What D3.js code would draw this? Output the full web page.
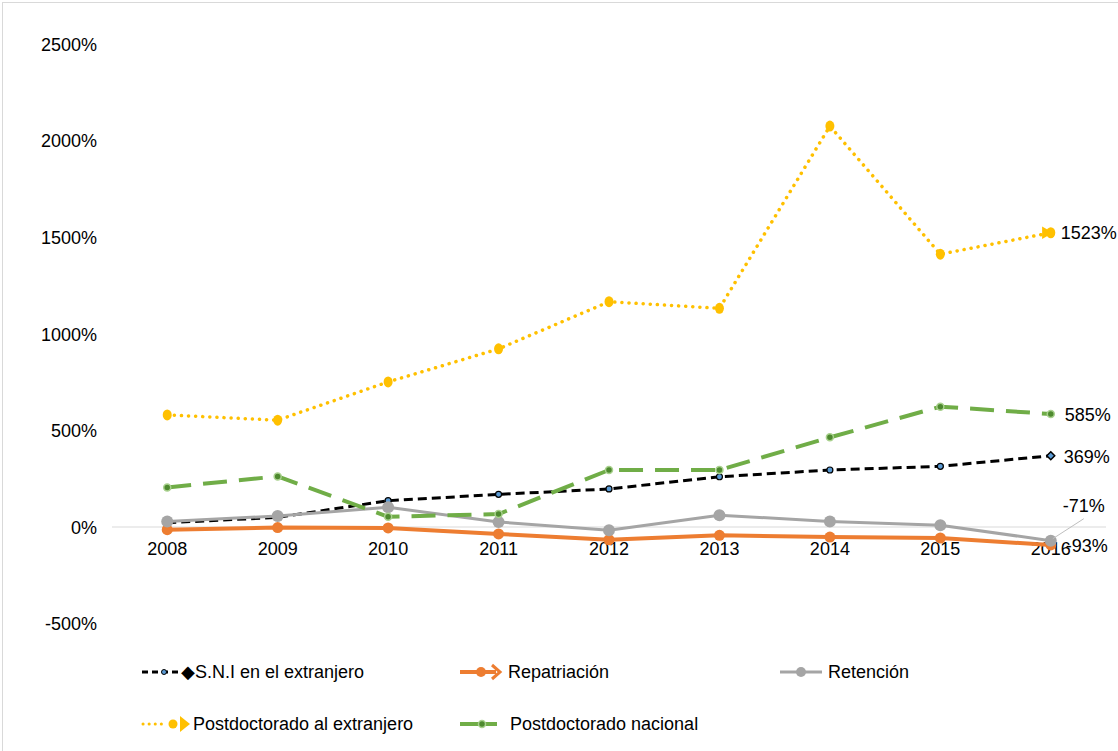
<!DOCTYPE html>
<html><head><meta charset="utf-8">
<script src="https://cdn.jsdelivr.net/npm/d3@7"></script>
<style>body{margin:0;background:#fff}svg{display:block}text{font-family:"Liberation Sans",Arial,sans-serif;fill:#000}</style>
</head><body><svg id="c" width="1118" height="751"></svg>
<script>
const years = ["2008","2009","2010","2011","2012","2013","2014","2015","2016"];
const yTicks = [-500, 0, 500, 1000, 1500, 2000, 2500];
const sni = [22, 50, 136, 169, 197, 260, 295, 314, 369];
const repatriacion = [-14, -3, -5, -36, -66, -43, -52, -57, -93];
const retencion = [29, 57, 102, 26, -17, 61, 29, 9, -71];
const postExt = [580, 553, 751, 922, 1166, 1132, 2075, 1412, 1523];
const postNac = [205, 262, 53, 67, 295, 295, 464, 623, 585];
const names = ["S.N.I en el extranjero","Repatriación","Retención","Postdoctorado al extranjero","Postdoctorado nacional"];

const svg = d3.select("#c");
// outer frame
svg.append("rect").attr("x",2.5).attr("y",2.5).attr("width",1130).attr("height",760)
  .attr("fill","none").attr("stroke","#d9d9d9").attr("stroke-width",1);

const x = d3.scaleBand().domain(years).range([112,1106]).paddingInner(0).paddingOuter(0);
const cx = d => x(d)+x.bandwidth()/2;
const y = d3.scaleLinear().domain([-500,2500]).range([623.6,44]);

// y axis labels
const ya = svg.append("g").attr("transform","translate(97,0)")
  .call(d3.axisLeft(y).tickValues(yTicks).tickSize(0).tickPadding(0).tickFormat(d=>d+"%"));
ya.select(".domain").remove();
ya.selectAll("text").attr("font-size",18).attr("font-family","Liberation Sans, Arial, sans-serif").attr("fill","#000").attr("dy","0.35em");

// zero line
svg.append("line").attr("x1",112).attr("x2",1106).attr("y1",y(0)).attr("y2",y(0))
  .attr("stroke","#d9d9d9").attr("stroke-width",1);

// x labels
const xa = svg.append("g").attr("transform","translate(0,"+ (y(0)+22) +")")
  .call(d3.axisBottom(x).tickSize(0).tickPadding(0));
xa.select(".domain").remove();
xa.selectAll("text").attr("font-size",18).attr("font-family","Liberation Sans, Arial, sans-serif").attr("fill","#000").attr("dy","0.35em");

const line = d3.line().x((d,i)=>cx(years[i])).y(d=>y(d));

function series(vals, stroke, width, dash, cap){
  svg.append("path").datum(vals).attr("d",line).attr("fill","none")
    .attr("stroke",stroke).attr("stroke-width",width).attr("stroke-dasharray",dash||null)
    .attr("stroke-linecap",cap||"butt").attr("stroke-linejoin","round");
}
const g = svg.append("g");
// SNI
series(sni,"#000",3,"9,5");
sni.forEach((v,i)=>{
  if(i<sni.length-1) svg.append("circle").attr("cx",cx(years[i])).attr("cy",y(v)).attr("r",3).attr("fill","#5b9bd5").attr("stroke","#000").attr("stroke-width",1.2);
  else svg.append("path").attr("d",d3.symbol(d3.symbolDiamond2,40)()).attr("transform",`translate(${cx(years[i])},${y(v)})`).attr("fill","#5b9bd5").attr("stroke","#000").attr("stroke-width",1.5);
});
// Repatriación
series(repatriacion,"#ed7d31",4);
repatriacion.forEach((v,i)=>svg.append("circle").attr("cx",cx(years[i])).attr("cy",y(v)).attr("r",5.5).attr("fill","#ed7d31"));
// Retención
series(retencion,"#a5a5a5",3);
retencion.forEach((v,i)=>svg.append("circle").attr("cx",cx(years[i])).attr("cy",y(v)).attr("r",6).attr("fill","#a5a5a5"));
// Post ext
series(postExt,"#ffc000",3.5,"0.1,7","round");
postExt.forEach((v,i)=>{
  svg.append("ellipse").attr("cx",cx(years[i])).attr("cy",y(v)).attr("rx",4.5).attr("ry",5.5).attr("fill","#ffc000");
  if(i===postExt.length-1) svg.append("path").attr("d",d3.symbol(d3.symbolTriangle,70)()).attr("transform",`translate(${cx(years[i])-5},${y(v)}) rotate(90)`).attr("fill","#ffc000");
});
// Post nac
series(postNac,"#70ad47",4,"24,12");
postNac.forEach((v,i)=>svg.append("circle").attr("cx",cx(years[i])).attr("cy",y(v)).attr("r",3.5).attr("fill","#4e8a2f").attr("stroke","#a9d18e").attr("stroke-width",1.5));

// data labels
const last = years.length-1, lx = cx(years[last]);
function lab(t, xx, yy){ svg.append("text").attr("x",xx).attr("y",yy).attr("dy","0.35em").attr("font-size",18).text(t); }
lab(postExt[last]+"%", lx+10, y(postExt[last]));
lab(postNac[last]+"%", lx+14, y(postNac[last])+1);
lab(sni[last]+"%", lx+13, y(sni[last])+1);
svg.append("line").attr("x1",lx+2).attr("y1",y(retencion[last])-2).attr("x2",lx+33).attr("y2",y(retencion[last])-22).attr("stroke","#bfbfbf").attr("stroke-width",1);
lab(retencion[last]+"%", lx+12, y(retencion[last])-35);
lab(repatriacion[last]+"%", lx+15, y(repatriacion[last])+1);

// legend
const lg = svg.append("g");
function ltext(t,xx,yy){ lg.append("text").attr("x",xx).attr("y",yy).attr("dy","0.35em").attr("font-size",18).text(t); }
// SNI
let ry = 672;
lg.append("line").attr("x1",142).attr("x2",182).attr("y1",ry).attr("y2",ry).attr("stroke","#000").attr("stroke-width",3).attr("stroke-dasharray","6,4");
lg.append("circle").attr("cx",164).attr("cy",ry).attr("r",2.5).attr("fill","#5b9bd5").attr("stroke","#000").attr("stroke-width",1);
ltext("\u25C6"+names[0],181,ry);
// Repatriación
lg.append("line").attr("x1",460).attr("x2",496).attr("y1",ry).attr("y2",ry).attr("stroke","#ed7d31").attr("stroke-width",4);
lg.append("circle").attr("cx",481).attr("cy",ry).attr("r",5).attr("fill","#ed7d31");
lg.append("path").attr("d","M492,665 L500,672 L492,679").attr("fill","none").attr("stroke","#ed7d31").attr("stroke-width",3);
ltext(names[1],508,ry);
// Retención
lg.append("line").attr("x1",780).attr("x2",822).attr("y1",ry).attr("y2",ry).attr("stroke","#a5a5a5").attr("stroke-width",3);
lg.append("circle").attr("cx",801).attr("cy",ry).attr("r",5).attr("fill","#a5a5a5");
ltext(names[2],828,ry);
// Post ext
ry = 724;
lg.append("line").attr("x1",143).attr("x2",166).attr("y1",ry).attr("y2",ry).attr("stroke","#ffc000").attr("stroke-width",3).attr("stroke-dasharray","0.1,6").attr("stroke-linecap","round");
lg.append("circle").attr("cx",173).attr("cy",ry).attr("r",4.5).attr("fill","#ffc000");
lg.append("path").attr("d","M180,716 L190,724 L180,732 Z").attr("fill","#ffc000");
ltext(names[3],193,ry);
// Post nac
lg.append("line").attr("x1",460).attr("x2",497).attr("y1",ry).attr("y2",ry).attr("stroke","#70ad47").attr("stroke-width",4);
lg.append("circle").attr("cx",482).attr("cy",ry).attr("r",3.5).attr("fill","#4e8a2f").attr("stroke","#a9d18e").attr("stroke-width",1.5);
ltext(names[4],510,ry);
</script></body></html>
